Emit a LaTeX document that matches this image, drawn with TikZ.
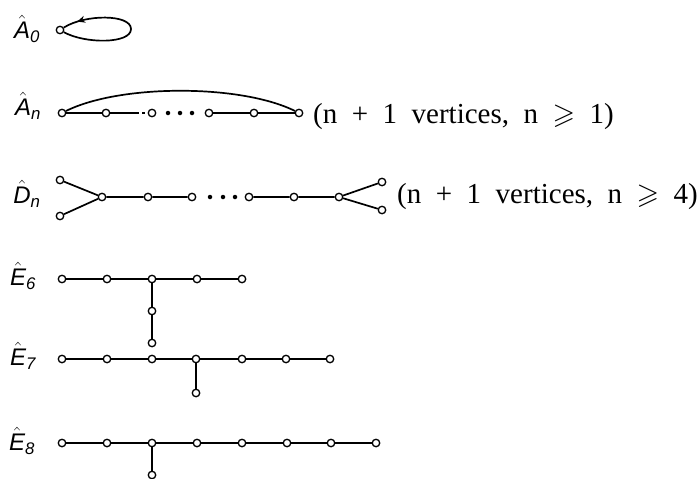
\documentclass[tikz,border=0pt]{standalone}
\usepackage{amsmath,amssymb}
\usepackage{fontspec}
\setmainfont{Liberation Serif}
\newfontfamily\labfont{Liberation Sans}
\newfontfamily\txtfont{Liberation Serif}[WordSpace=2]
\usetikzlibrary{decorations.markings,arrows.meta}
\newcommand\dlab[2]{$\hat{\text{\labfont\itshape #1}}_{\text{\labfont\itshape #2}}$}
\begin{document}
\begin{tikzpicture}[x=1pt,y=-1pt,
  v/.style={circle,draw,fill=white,inner sep=0pt,minimum size=7.5pt,line width=1.3pt},
  e/.style={line width=1.7pt},
  dot/.style={circle,fill,inner sep=0pt,minimum size=4.5pt},
  lab/.style={font=\fontsize{24}{27}\selectfont,inner sep=0pt},
  note/.style={font=\txtfont\fontsize{29}{32}\selectfont,anchor=base west,inner sep=0pt}]
\useasboundingbox (0,0) rectangle (699,479);

% A0
\node[lab] (l0) at (27,29) {\dlab{A}{0}};
\node[v] (a0) at (60,30) {};
\draw[e,postaction=decorate,decoration={markings,mark=at position 0.9 with {\arrow{Stealth[length=8pt,width=7pt]}}}]
  (a0) .. controls (85,44) and (131,44) .. (131,29) .. controls (131,14) and (85,14) .. (a0);

% An
\node[lab] (l1) at (28,106) {\dlab{A}{n}};
\foreach \i/\x in {1/62,2/106,3/152,4/209,5/254,6/299}
  \node[v] (n\i) at (\x,113) {};
\foreach \i/\x in {1/168,2/180,3/192}
  \node[dot] (nd\i) at (\x,113) {};
\coordinate (nm) at (136,113);
\draw[e] (n1) -- (n2) -- (nm);
\draw[e,dash pattern=on 3pt off 3pt] (nm) -- (n3);
\draw[e] (n4) -- (n5) -- (n6);
\draw[e] (n1) .. controls (120,84) and (241,84) .. (n6);
\node[note] (t1) at (313,123) {(n + 1 vertices, n $\geqslant$ 1)};

% Dn
\node[lab] (l2) at (27,194) {\dlab{D}{n}};
\node[v] (d1) at (60,180) {};
\node[v] (d2) at (60,216) {};
\foreach \i/\x in {3/102,4/148,5/192,6/249,7/294,8/339}
  \node[v] (d\i) at (\x,197) {};
\node[v] (d9) at (382,182) {};
\node[v] (d10) at (382,210) {};
\foreach \i/\x in {1/210,2/223,3/235}
  \node[dot] (dd\i) at (\x,197) {};
\draw[e] (d1) -- (d3) (d2) -- (d3) (d3) -- (d4) -- (d5);
\draw[e] (d6) -- (d7) -- (d8) (d8) -- (d9) (d8) -- (d10);
\node[note] (t2) at (397,203) {(n + 1 vertices, n $\geqslant$ 4)};

% E6
\node[lab] (l3) at (23,276) {\dlab{E}{6}};
\foreach \i/\x in {1/62,2/107,3/152,4/197,5/242}
  \node[v] (e\i) at (\x,279) {};
\node[v] (e6) at (152,311) {};
\node[v] (e7) at (152,343) {};
\draw[e] (e1) -- (e2) -- (e3) -- (e4) -- (e5) (e3) -- (e6) -- (e7);

% E7
\node[lab] (l4) at (23,356) {\dlab{E}{7}};
\foreach \i/\x in {1/62,2/107,3/152,4/196,5/242,6/286,7/330}
  \node[v] (f\i) at (\x,359) {};
\node[v] (f8) at (196,393) {};
\draw[e] (f1) -- (f2) -- (f3) -- (f4) -- (f5) -- (f6) -- (f7) (f4) -- (f8);

% E8
\node[lab] (l5) at (22,441) {\dlab{E}{8}};
\foreach \i/\x in {1/62,2/107,3/152,4/197,5/242,6/287,7/331,8/376}
  \node[v] (g\i) at (\x,443) {};
\node[v] (g9) at (152,475) {};
\draw[e] (g1) -- (g2) -- (g3) -- (g4) -- (g5) -- (g6) -- (g7) -- (g8) (g3) -- (g9);
\end{tikzpicture}
\end{document}
